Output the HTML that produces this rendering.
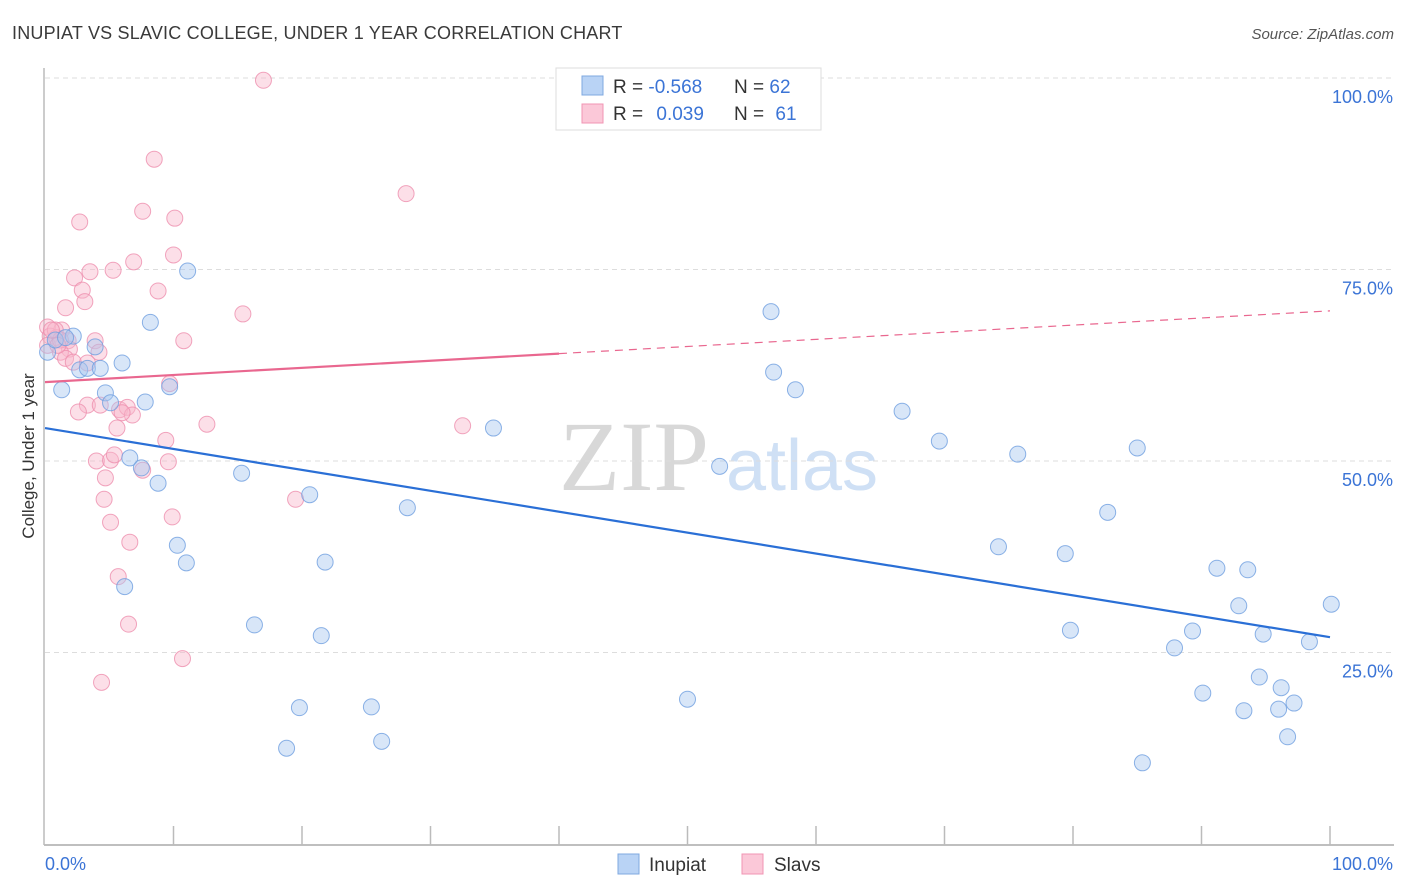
<!DOCTYPE html>
<html><head><meta charset="utf-8"><style>
body{margin:0;background:#fff;font-family:"Liberation Sans",sans-serif;}
#wrap{position:relative;width:1406px;height:892px;overflow:hidden;}
</style></head><body>
<div id="wrap">
<svg id="svg" width="1406" height="892" xmlns="http://www.w3.org/2000/svg">
<text x="12" y="39" font-size="18" letter-spacing="0.2" fill="#3a3a3a">INUPIAT VS SLAVIC COLLEGE, UNDER 1 YEAR CORRELATION CHART</text>
<text x="1394" y="39" font-size="15" fill="#555" font-style="italic" text-anchor="end">Source: ZipAtlas.com</text>
<text x="634" y="490" font-size="100" fill="#d8d8d8" font-family="Liberation Serif,serif" text-anchor="middle">ZIP</text>
<text x="802" y="490" font-size="72" fill="#cfe0f5" text-anchor="middle">atlas</text>
<text transform="translate(34,456) rotate(-90)" font-size="17" fill="#333" text-anchor="middle">College, Under 1 year</text>
<g id="grid"></g><g id="axes"></g><g id="pts"></g><g id="trend"></g>
<g>
<rect x="556" y="68" width="265" height="62" fill="#fff" stroke="#ddd"/>
<rect x="582" y="76" width="21" height="19" fill="#b9d3f5" stroke="#7fa8e0"/>
<rect x="582" y="104" width="21" height="19" fill="#fbc8d8" stroke="#f095b3"/>
<text x="613" y="93" font-size="19" fill="#333">R = <tspan fill="#3b74d6">-0.568</tspan></text>
<text x="734" y="93" font-size="19" fill="#333">N = <tspan fill="#3b74d6">62</tspan></text>
<text x="613" y="120" font-size="19" fill="#333">R = <tspan fill="#3b74d6" dx="8">0.039</tspan></text>
<text x="734" y="120" font-size="19" fill="#333">N = <tspan fill="#3b74d6" dx="6">61</tspan></text>
</g>
<g>
<rect x="618" y="854" width="21" height="20" fill="#b9d3f5" stroke="#7fa8e0"/>
<text x="649" y="871" font-size="19" fill="#333">Inupiat</text>
<rect x="742" y="854" width="21" height="20" fill="#fbc8d8" stroke="#f095b3"/>
<text x="774" y="871" font-size="19" fill="#333">Slavs</text>
</g>
</svg>
</div>
<script>
const yTicks=[25,50,75,100];
const yTickLabels=["25.0%","50.0%","75.0%","100.0%"];
const xTicks=[0,10,20,30,40,50,60,70,80,90,100];
const xEndLabels=["0.0%","100.0%"];
const inupiatX=[0.2,1.3,2.2,2.7,3.3,3.9,4.3,4.7,5.1,6.0,6.2,6.6,7.8,7.5,8.2,8.8,9.7,10.3,11.0,11.1,15.3,16.3,19.8,18.8,20.6,21.5,21.8,25.4,26.2,28.2,34.9,50.0,52.5,56.5,56.7,58.4,66.7,69.6,74.2,75.7,79.4,79.8,82.7,85.0,85.4,87.9,89.3,90.1,91.2,92.9,93.3,93.6,94.5,94.8,96.0,96.2,96.7,97.2,98.4,100.1,0.8,1.6];
const inupiatY=[64.2,59.3,66.3,61.9,62.1,64.9,62.1,58.9,57.6,62.8,33.6,50.4,57.7,49.1,68.1,47.1,59.7,39.0,36.7,74.8,48.4,28.6,17.8,12.5,45.6,27.2,36.8,17.9,13.4,43.9,54.3,18.9,49.3,69.5,61.6,59.3,56.5,52.6,38.8,50.9,37.9,27.9,43.3,51.7,10.6,25.6,27.8,19.7,36.0,31.1,17.4,35.8,21.8,27.4,17.6,20.4,14.0,18.4,26.4,31.3,65.8,66.1];
const slavsX=[17.0,8.5,28.1,7.6,10.1,2.7,10.0,6.9,3.5,5.3,2.3,2.9,8.8,3.1,1.6,15.4,0.2,1.3,0.4,0.9,1.8,3.9,10.8,1.9,0.2,1.2,1.6,4.2,2.2,3.3,9.7,3.3,2.6,4.3,5.8,6.4,6.8,6.0,5.6,12.6,32.5,9.4,4.0,5.1,9.6,5.4,7.6,4.7,4.6,19.5,5.1,9.9,6.6,5.7,6.5,10.7,4.4,0.8,1.2,0.5,1.0];
const slavsY=[99.7,89.4,84.9,82.6,81.7,81.2,76.9,76.0,74.7,74.9,73.9,72.3,72.2,70.8,70.0,69.2,67.5,67.1,66.3,66.1,65.7,65.7,65.7,64.6,65.1,64.2,63.4,64.2,62.9,62.8,60.1,57.3,56.4,57.3,56.7,57.0,56.0,56.3,54.3,54.8,54.6,52.7,50.0,50.1,49.9,50.8,48.8,47.8,45.0,45.0,42.0,42.7,39.4,34.9,28.7,24.2,21.1,67.1,65.8,67.1,65.1];
const inupiatTrend=[54.3,27.0];
const slavsTrend=[60.3,69.6];
const slavsSolidEnd=40;

const NS="http://www.w3.org/2000/svg";
const X0=45,X1=1330,Y0=844,Y100=78;
const sx=v=>X0+(X1-X0)*v/100;
const sy=v=>Y0-(Y0-Y100)*v/100;
function mk(tag,attrs,parent){const e=document.createElementNS(NS,tag);for(const k in attrs)e.setAttribute(k,attrs[k]);parent.appendChild(e);return e;}
const grid=document.getElementById('grid'),axes=document.getElementById('axes'),pts=document.getElementById('pts'),trend=document.getElementById('trend');
yTicks.forEach((t,i)=>{
  const l=mk('line',{x1:X0,x2:1394,y1:sy(t),y2:sy(t),stroke:'#ddd','stroke-dasharray':'5,4'},grid);
  
  
  const tx=mk('text',{x:1393,y:sy(t)+25,'font-size':18,fill:'#3b74d6','text-anchor':'end'},axes);
  tx.textContent=yTickLabels[i];
  
  
});
const ax=mk('line',{x1:X0-1,x2:1394,y1:845,y2:845,stroke:'#aaa','stroke-width':1.5},axes);


const ay=mk('line',{x1:X0-1,x2:X0-1,y1:68,y2:845,stroke:'#bbb','stroke-width':1.5},axes);


xTicks.forEach(t=>{
  if(t===0)return;
  const l=mk('line',{x1:sx(t),x2:sx(t),y1:826,y2:845,stroke:'#bbb','stroke-width':1.5},axes);
  
  
});
const xl0=mk('text',{x:45,y:870,'font-size':18,fill:'#3b74d6'},axes);xl0.textContent=xEndLabels[0];


const xl1=mk('text',{x:1393,y:870,'font-size':18,fill:'#3b74d6','text-anchor':'end'},axes);xl1.textContent=xEndLabels[1];


function series(xs,ys,fill,stroke,name){
  xs.forEach((x,i)=>{
    const c=mk('circle',{cx:sx(x),cy:sy(ys[i]),r:8,fill:fill,'fill-opacity':0.45,stroke:stroke,'stroke-opacity':0.8,'stroke-width':1},pts);
    
    
  });
}
series(slavsX,slavsY,'#f9b8cc','#ee8fae','slavs');
series(inupiatX,inupiatY,'#a9c8f0','#6f9fe0','inupiat');
const bt=mk('line',{x1:sx(0),y1:sy(inupiatTrend[0]),x2:sx(100),y2:sy(inupiatTrend[1]),stroke:'#2a6fd6','stroke-width':2.2},trend);


const pAt=x=>slavsTrend[0]+(slavsTrend[1]-slavsTrend[0])*x/100;
const pt1=mk('line',{x1:sx(0),y1:sy(pAt(0)),x2:sx(slavsSolidEnd),y2:sy(pAt(slavsSolidEnd)),stroke:'#e9678f','stroke-width':2.2},trend);


const pt2=mk('line',{x1:sx(slavsSolidEnd),y1:sy(pAt(slavsSolidEnd)),x2:sx(100),y2:sy(pAt(100)),stroke:'#e9678f','stroke-width':1.2,'stroke-dasharray':'8,6'},trend);


</script>
</body></html>
